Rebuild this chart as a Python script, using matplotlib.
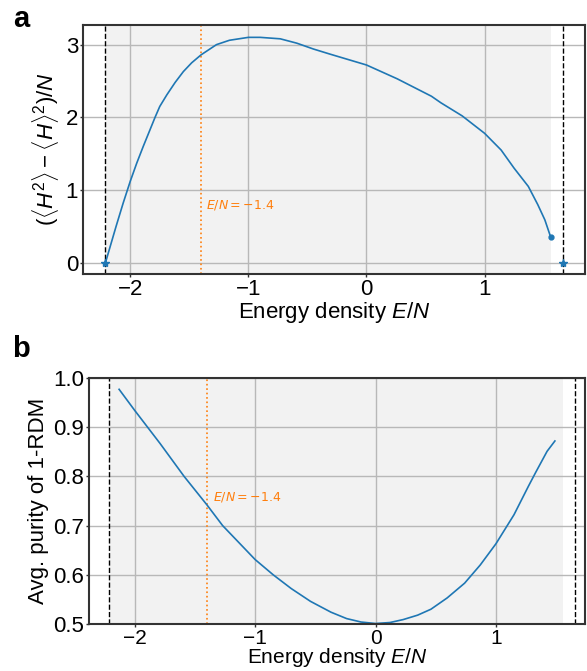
import matplotlib
matplotlib.use("Agg")
import matplotlib.pyplot as plt
import numpy as np

plt.rcParams['font.family'] = ['Liberation Sans', 'DejaVu Sans']
plt.rcParams['mathtext.fontset'] = 'custom'
plt.rcParams['mathtext.rm'] = 'Liberation Sans'
plt.rcParams['mathtext.it'] = 'Liberation Sans:italic'
plt.rcParams['axes.unicode_minus'] = True

# spectrum edges (ground state / highest state)
E_min = -2.21
E_max = 1.66
E_mark = -1.4
E_shade_end = 1.56

# panel a: energy variance per site
E_var = [-2.21, -2.12, -2.06, -2.0, -1.945, -1.89, -1.79, -1.75, -1.69, -1.62, -1.55,
         -1.48, -1.40, -1.27, -1.16, -1.0, -0.90, -0.73, -0.59, -0.45, -0.31, 0.0,
         0.26, 0.55, 0.63, 0.81, 1.0, 1.14, 1.25, 1.37, 1.45, 1.51, 1.56]
var = [0.0, 0.50, 0.82, 1.12, 1.37, 1.60, 2.00, 2.15, 2.31, 2.48, 2.63,
       2.75, 2.86, 3.00, 3.06, 3.10, 3.10, 3.08, 3.02, 2.94, 2.87, 2.72,
       2.53, 2.29, 2.20, 2.02, 1.78, 1.55, 1.30, 1.05, 0.80, 0.59, 0.35]

# panel b: average purity of the 1-RDM
E_pur = [-2.13, -2.0, -1.79, -1.59, -1.40, -1.27, -1.0, -0.85, -0.70, -0.54, -0.37,
         -0.24, -0.12, 0.0, 0.12, 0.23, 0.35, 0.46, 0.595, 0.74, 0.87, 1.0, 1.15, 1.27,
         1.33, 1.425, 1.49]
purity = [0.977, 0.934, 0.867, 0.800, 0.742, 0.700, 0.631, 0.600, 0.572, 0.546, 0.524,
          0.511, 0.504, 0.501, 0.503, 0.509, 0.518, 0.530, 0.553, 0.583, 0.620, 0.663, 0.722,
          0.780, 0.808, 0.851, 0.872]

blue = '#1f77b4'
orange = '#ff7f0e'
fs = 16

fig = plt.figure(figsize=(5.87, 6.71), dpi=100)
ax1 = fig.add_axes([83 / 587, 1 - 274 / 671, 502 / 587, 249 / 671])
ax2 = fig.add_axes([89 / 587, 1 - 624 / 671, 496 / 587, 246 / 671])


def style(ax):
    ax.axvspan(E_min, E_shade_end, color='#f2f2f2', zorder=0, lw=0)
    ax.grid(True, color='#b8b8b8', lw=1)
    ax.set_axisbelow(True)
    for s in ax.spines.values():
        s.set_color('#333333')
        s.set_linewidth(1.5)
    ax.tick_params(labelsize=fs, length=2.5, width=1, color='#333333', pad=1)
    ax.axvline(E_min, color='k', ls='--', lw=1)
    ax.axvline(E_max, color='k', ls='--', lw=1)
    ax.axvline(E_mark, color=orange, ls=':', lw=1.2)


style(ax1)
ax1.plot(E_var, var, color=blue, lw=1.2)
ax1.plot([E_min, E_max], [0, 0], '*', color=blue, ms=6, ls='none')
ax1.plot(E_var[-1], var[-1], 'o', color=blue, ms=3.5)
ax1.set_xlim(-2.40, 1.85)
ax1.set_ylim(-0.155, 3.27)
ax1.set_xticks([-2, -1, 0, 1])
ax1.set_yticks([0, 1, 2, 3])
ax1.set_xlabel(r'Energy density $E/N$', fontsize=fs, labelpad=0)
ax1.set_ylabel(r'$(\langle H^2\rangle - \langle H\rangle^2)/N$', fontsize=fs, labelpad=3)
ax1.text(-1.355, 0.80, r'$E/N = -1.4$', color=orange, fontsize=9, va='center',
         family='DejaVu Sans', math_fontfamily='dejavusans')

style(ax2)
ax2.plot(E_pur, purity, color=blue, lw=1.2)
ax2.set_xlim(-2.38, 1.74)
ax2.set_ylim(0.5, 1.0)
ax2.set_xticks([-2, -1, 0, 1])
ax2.set_yticks([0.5, 0.6, 0.7, 0.8, 0.9, 1.0])
ax2.tick_params(axis='x', labelsize=15)
ax2.set_xlabel(r'Energy density $E/N$', fontsize=15)
ax2.xaxis.set_label_coords(0.5, -0.09)
ax2.set_ylabel('Avg. purity of 1-RDM', fontsize=fs, labelpad=3)
ax2.text(-1.35, 0.758, r'$E/N = -1.4$', color=orange, fontsize=9, va='center',
         family='DejaVu Sans', math_fontfamily='dejavusans')

fig.text(21 / 587, 1 - 19 / 671, 'a', fontsize=21, fontweight='bold', va='center', ha='center')
fig.text(21 / 587, 1 - 349 / 671, 'b', fontsize=21, fontweight='bold', va='center', ha='center')

fig.savefig('out.png', dpi=100)
